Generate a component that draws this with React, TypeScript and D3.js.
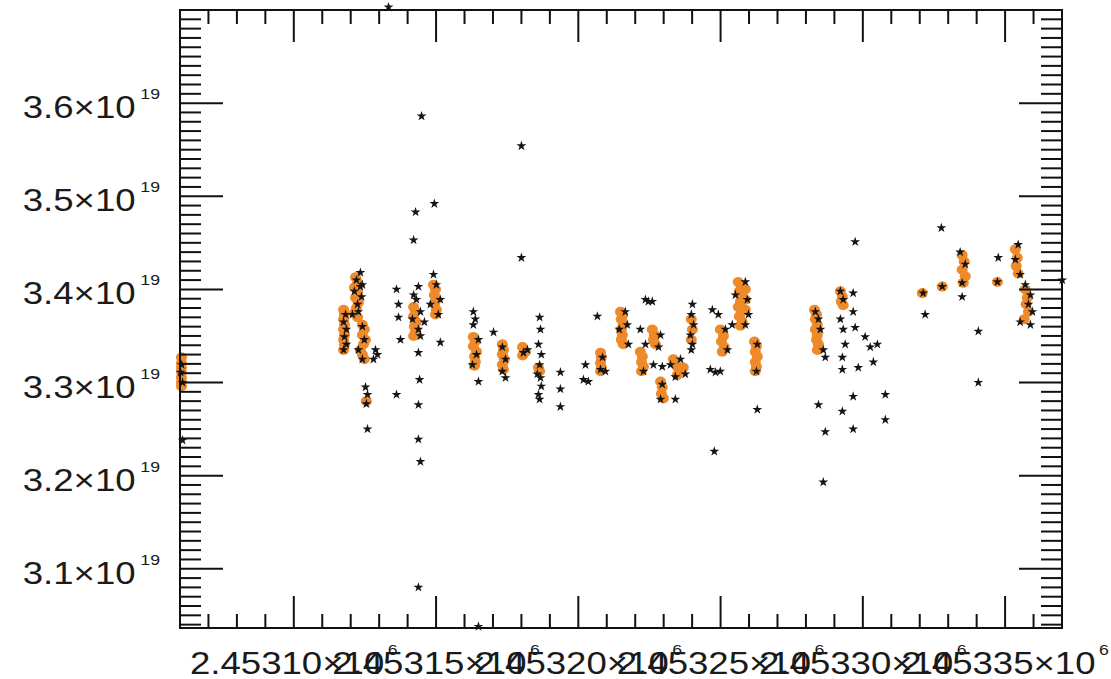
import React from "react";
import * as d3 from "d3";

// Julian date offsets (days from JD0) and column values (units of 1e19)
const JD0 = 2453100;
const Y_UNIT = 1e19;

const orangeDays = [
  -39.5, -39.5, -39.5, -39.5, -39.5, -39.5, -39.5,
  17.5, 17.8, 17.5, 17.8, 17.5, 17.8, 17.5, 17.8, 17.5,
  21.7, 22.4, 21.3, 22.4, 21.7, 22.7, 22.0, 21.3, 22.4,
  24.1, 24.8, 24.1, 25.2, 24.5, 23.4, 24.1, 24.8, 25.5,
  42.1, 42.8, 42.1, 43.1, 42.4, 42.8, 42.1,
  49.1, 49.8, 49.4, 50.1, 49.4, 50.1, 49.8,
  63.1, 63.8, 63.1, 64.2, 63.5, 63.8, 63.5,
  73.3, 73.7, 73.3, 74.0, 73.3, 73.7,
  80.4, 81.4, 80.4,
  86.0, 86.4,
  107.8, 108.1, 107.8, 108.1, 107.8,
  114.8, 115.5, 115.1, 115.8, 115.1, 115.5, 115.1, 115.8,
  121.8, 122.5, 122.2, 122.9, 122.2,
  126.0, 126.7, 126.4, 127.1,
  128.9, 129.5, 129.2, 129.9,
  139.7, 140.1, 139.7,
  133.4, 134.5, 135.5, 136.9, 134.8,
  149.9, 151.0, 150.3, 151.3, 150.6,
  156.2, 157.3, 156.6, 157.6, 157.0, 156.2, 157.3, 156.6, 157.6, 157.0, 158.7, 158.7, 158.7,
  161.9, 162.6, 162.2, 162.9, 162.2, 162.6, 162.2,
  183.0, 183.7, 183.3, 184.0, 183.3, 184.0, 183.7, 184.4, 184.0,
  192.1, 192.8, 192.4, 193.1,
  220.9, 227.9,
  234.9, 235.6, 234.9, 236.0, 235.3,
  247.3,
  253.6, 254.3, 253.9, 254.6,
  257.1, 257.8, 257.4, 258.2, 256.7,
];
const orangeValues = [
  3.327, 3.321, 3.316, 3.311, 3.305, 3.3, 3.296,
  3.378, 3.373, 3.368, 3.362, 3.357, 3.351, 3.346, 3.341, 3.335,
  3.413, 3.407, 3.402, 3.397, 3.391, 3.386, 3.38, 3.375, 3.37,
  3.362, 3.357, 3.351, 3.346, 3.341, 3.335, 3.33, 3.325, 3.28,
  3.381, 3.376, 3.371, 3.365, 3.36, 3.355, 3.35,
  3.405, 3.4, 3.394, 3.389, 3.384, 3.378, 3.373,
  3.349, 3.344, 3.339, 3.333, 3.328, 3.322, 3.318,
  3.341, 3.335, 3.33, 3.325, 3.319, 3.314,
  3.338, 3.333, 3.329,
  3.316, 3.312,
  3.332, 3.327, 3.321, 3.316, 3.312,
  3.376, 3.372, 3.368, 3.362, 3.357, 3.351, 3.346, 3.341,
  3.333, 3.328, 3.322, 3.317, 3.312,
  3.357, 3.351, 3.346, 3.341,
  3.301, 3.295, 3.288, 3.283,
  3.368, 3.357, 3.346,
  3.325, 3.318, 3.313, 3.316, 3.308,
  3.357, 3.35, 3.344, 3.338, 3.333,
  3.408, 3.403, 3.398, 3.392, 3.387, 3.381, 3.376, 3.371, 3.365, 3.361, 3.4, 3.389, 3.378,
  3.344, 3.339, 3.333, 3.328, 3.322, 3.317, 3.312,
  3.378, 3.373, 3.368, 3.362, 3.357, 3.351, 3.346, 3.341, 3.335,
  3.398, 3.392, 3.387, 3.383,
  3.396, 3.403,
  3.437, 3.43, 3.421, 3.414, 3.407,
  3.408,
  3.443, 3.434, 3.425, 3.417,
  3.4, 3.391, 3.384, 3.376, 3.368,
];

const starDays = [
  -39.8, -39.1, -39.1, -39.4,
  18.2, 17.5, 18.5, 17.8, 18.5, 17.5,
  23.4, 22.0, 23.4, 21.3, 23.8, 22.4, 20.6, 24.1, 22.7,
  24.1, 24.8, 22.7, 24.1, 28.7, 28.0, 29.4, 25.2, 25.9, 25.5, 25.9,
  36.1, 36.8, 36.8, 37.5, 36.1,
  43.8, 42.1, 43.1, 44.5, 41.7, 45.9, 43.8, 44.5, 42.8, 42.1, 44.9, 43.8, 44.2, 43.8, 43.8, 44.5, 43.8,
  49.1, 50.1, 51.5, 50.8, 48.0, 51.5, 49.4,
  63.1, 63.8, 63.1, 64.9, 64.2, 62.8, 64.9, 64.9,
  70.2,
  73.3, 74.4, 73.3, 74.4,
  80.7, 82.1, 80.0, 80.0,
  86.4, 86.7, 86.0, 87.0, 86.4, 85.6, 86.7, 87.0, 86.0, 86.4,
  93.7, 93.7, 93.7,
  102.5, 101.8, 103.5,
  106.7, 107.8, 109.5, 108.5,
  116.5, 117.2, 117.6, 114.4,
  121.8, 123.6, 122.9,
  123.6, 124.6, 126.0,
  128.9, 128.2,
  126.4, 129.5,
  128.9, 134.1, 129.5,
  140.1, 139.7, 140.5, 139.4, 140.1, 139.7,
  132.4, 135.9, 137.6, 134.1,
  147.1, 149.2, 146.4, 149.9, 148.2,
  151.7, 152.4,
  158.7, 159.4, 158.7, 159.8, 154.1, 155.2,
  162.9, 162.6, 162.9,
  147.8,
  183.3, 184.4, 185.1, 186.1, 186.8, 184.4, 186.8, 186.1,
  192.1, 193.1, 196.6, 196.6, 192.1, 193.1, 193.8, 197.3, 192.8, 192.8, 198.4, 200.8, 202.6, 205.1, 203.7, 196.6, 196.6, 192.8, 207.9, 207.9, 197.3,
  221.2, 221.9,
  227.9, 227.6,
  234.2, 236.0, 234.9, 234.9, 240.6, 240.6,
  247.6, 247.3,
  254.6, 253.6, 255.3,
  257.1, 258.9, 258.2, 259.6, 255.3, 258.9, 270.1,
  33.3,
];
const starValues = [
  3.311, 3.3, 3.238, 3.319,
  3.373, 3.365, 3.357, 3.349, 3.341, 3.335,
  3.418, 3.41, 3.403, 3.398, 3.392, 3.384, 3.373, 3.405, 3.376,
  3.36, 3.346, 3.335, 3.325, 3.335, 3.325, 3.33, 3.295, 3.287, 3.277, 3.25,
  3.4, 3.384, 3.37, 3.346, 3.287,
  3.403, 3.394, 3.389, 3.376, 3.368, 3.365, 3.357, 3.35, 3.483, 3.453, 3.586, 3.332, 3.303, 3.276, 3.239, 3.215, 3.08,
  3.416, 3.405, 3.389, 3.373, 3.384, 3.343, 3.492,
  3.376, 3.368, 3.362, 3.346, 3.33, 3.319, 3.301, 3.038,
  3.354,
  3.338, 3.325, 3.312, 3.305,
  3.332, 3.335, 3.434, 3.554,
  3.37, 3.357, 3.341, 3.33, 3.319, 3.309, 3.305, 3.296, 3.287, 3.282,
  3.311, 3.293, 3.274,
  3.319, 3.303, 3.301,
  3.371, 3.314, 3.312, 3.327,
  3.376, 3.362, 3.341, 3.357,
  3.357, 3.341, 3.312,
  3.389, 3.387, 3.387,
  3.351, 3.338,
  3.319, 3.317,
  3.282, 3.282, 3.298,
  3.384, 3.373, 3.362, 3.351, 3.341, 3.335,
  3.319, 3.325, 3.309, 3.306,
  3.378, 3.373, 3.314, 3.312, 3.311,
  3.357, 3.335,
  3.408, 3.389, 3.362, 3.373, 3.362, 3.394,
  3.341, 3.312, 3.271,
  3.226,
  3.376, 3.368, 3.357, 3.335, 3.327, 3.276, 3.247, 3.193,
  3.398, 3.389, 3.396, 3.376, 3.368, 3.357, 3.341, 3.359, 3.327, 3.314, 3.316, 3.349, 3.338, 3.341, 3.322, 3.285, 3.25, 3.269, 3.287, 3.26, 3.451,
  3.396, 3.373,
  3.403, 3.466,
  3.44, 3.427, 3.407, 3.392, 3.355, 3.3,
  3.434, 3.408,
  3.448, 3.432, 3.416,
  3.405, 3.394, 3.384, 3.376, 3.365, 3.362, 3.41,
  3.703,
];

const xMajorTicks = [2453100, 2453150, 2453200, 2453250, 2453300, 2453350];
const xTickLabels = ["2.45310", "2.45315", "2.45320", "2.45325", "2.45330", "2.45335"];
const xTickExponent = "6";
const yMajorTicks = [3.1, 3.2, 3.3, 3.4, 3.5, 3.6];
const yTickLabels = ["3.1", "3.2", "3.3", "3.4", "3.5", "3.6"];
const yTickExponent = "19";

const X_DOMAIN = [2453060, 2453370];
const Y_DOMAIN = [3.0364, 3.7];

const W = 1111;
const H = 679;
const L = 180, R = 1062, T = 10, B = 628;
const FONT = "'Liberation Sans', Arial, Helvetica, sans-serif";
const SX = 1.18;

export default function App() {
  const x = d3.scaleLinear().domain(X_DOMAIN).range([L, R]);
  const y = d3.scaleLinear().domain([Y_DOMAIN[0] * Y_UNIT, Y_DOMAIN[1] * Y_UNIT]).range([B, T]);

  const xMinor = d3.range(Math.ceil(X_DOMAIN[0] / 10) * 10, X_DOMAIN[1] + 0.001, 10);
  const yMinor = d3
    .range(Math.ceil(Y_DOMAIN[0] * 100), Math.floor(Y_DOMAIN[1] * 100 - 0.5) + 1)
    .map((v) => v / 100);

  const star = d3.symbol().type(d3.symbolStar).size(30)() as string;

  const xMajorSet = new Set(xMajorTicks.map((v) => Math.round(v)));
  const yMajorSet = new Set(yMajorTicks.map((v) => Math.round(v * 100)));

  return (
    <svg width={W} height={H} style={{ position: "absolute", left: 0, top: 0 }}>
      <rect x={0} y={0} width={W} height={H} fill="#fff" />
      <g fill="#ef8a2b">
        {orangeDays.map((d, i) => (
          <ellipse key={i} cx={x(JD0 + d)} cy={y(orangeValues[i] * Y_UNIT)} rx={5.5} ry={5} />
        ))}
      </g>
      <g fill="#151515">
        {starDays.map((d, i) => (
          <path
            key={i}
            d={star}
            transform={`translate(${x(JD0 + d)},${y(starValues[i] * Y_UNIT)})`}
          />
        ))}
      </g>
      <rect x={L} y={T} width={R - L} height={B - T} fill="none" stroke="#111" strokeWidth={2} />
      <g stroke="#111" strokeWidth={2}>
        {xMinor.map((v) => {
          const major = xMajorSet.has(Math.round(v));
          const len = major ? 32 : 14;
          const px = x(v);
          return (
            <g key={"x" + v}>
              <line x1={px} x2={px} y1={B} y2={B - len} />
              <line x1={px} x2={px} y1={T} y2={T + len} />
            </g>
          );
        })}
        {yMinor.map((v) => {
          const major = yMajorSet.has(Math.round(v * 100));
          const len = major ? 43 : 21;
          const py = y(v * Y_UNIT);
          return (
            <g key={"y" + v}>
              <line x1={L} x2={L + len} y1={py} y2={py} />
              <line x1={R} x2={R - len} y1={py} y2={py} />
            </g>
          );
        })}
      </g>
      <g fill="#1a1a1a" fontFamily={FONT}>
        {yMajorTicks.map((v, i) => (
          <g key={"yl" + v} transform={`translate(160,${y(v * Y_UNIT) + 15}) scale(${SX},1)`}>
            <text textAnchor="end" fontSize={31}>
              {yTickLabels[i] + "\u00d710"}
              <tspan fontSize={15} dx={4} dy={-19}>
                {yTickExponent}
              </tspan>
            </text>
          </g>
        ))}
      </g>
      <g fill="#1a1a1a" fontFamily={FONT}>
        {xMajorTicks.map((v, i) => (
          <g key={"xl" + v} transform={`translate(${x(v)},674) scale(${SX},1)`}>
            <text textAnchor="middle" fontSize={31}>
              {xTickLabels[i] + "\u00d710"}
              <tspan fontSize={15} dx={3} dy={-19}>
                {xTickExponent}
              </tspan>
            </text>
          </g>
        ))}
      </g>
    </svg>
  );
}
